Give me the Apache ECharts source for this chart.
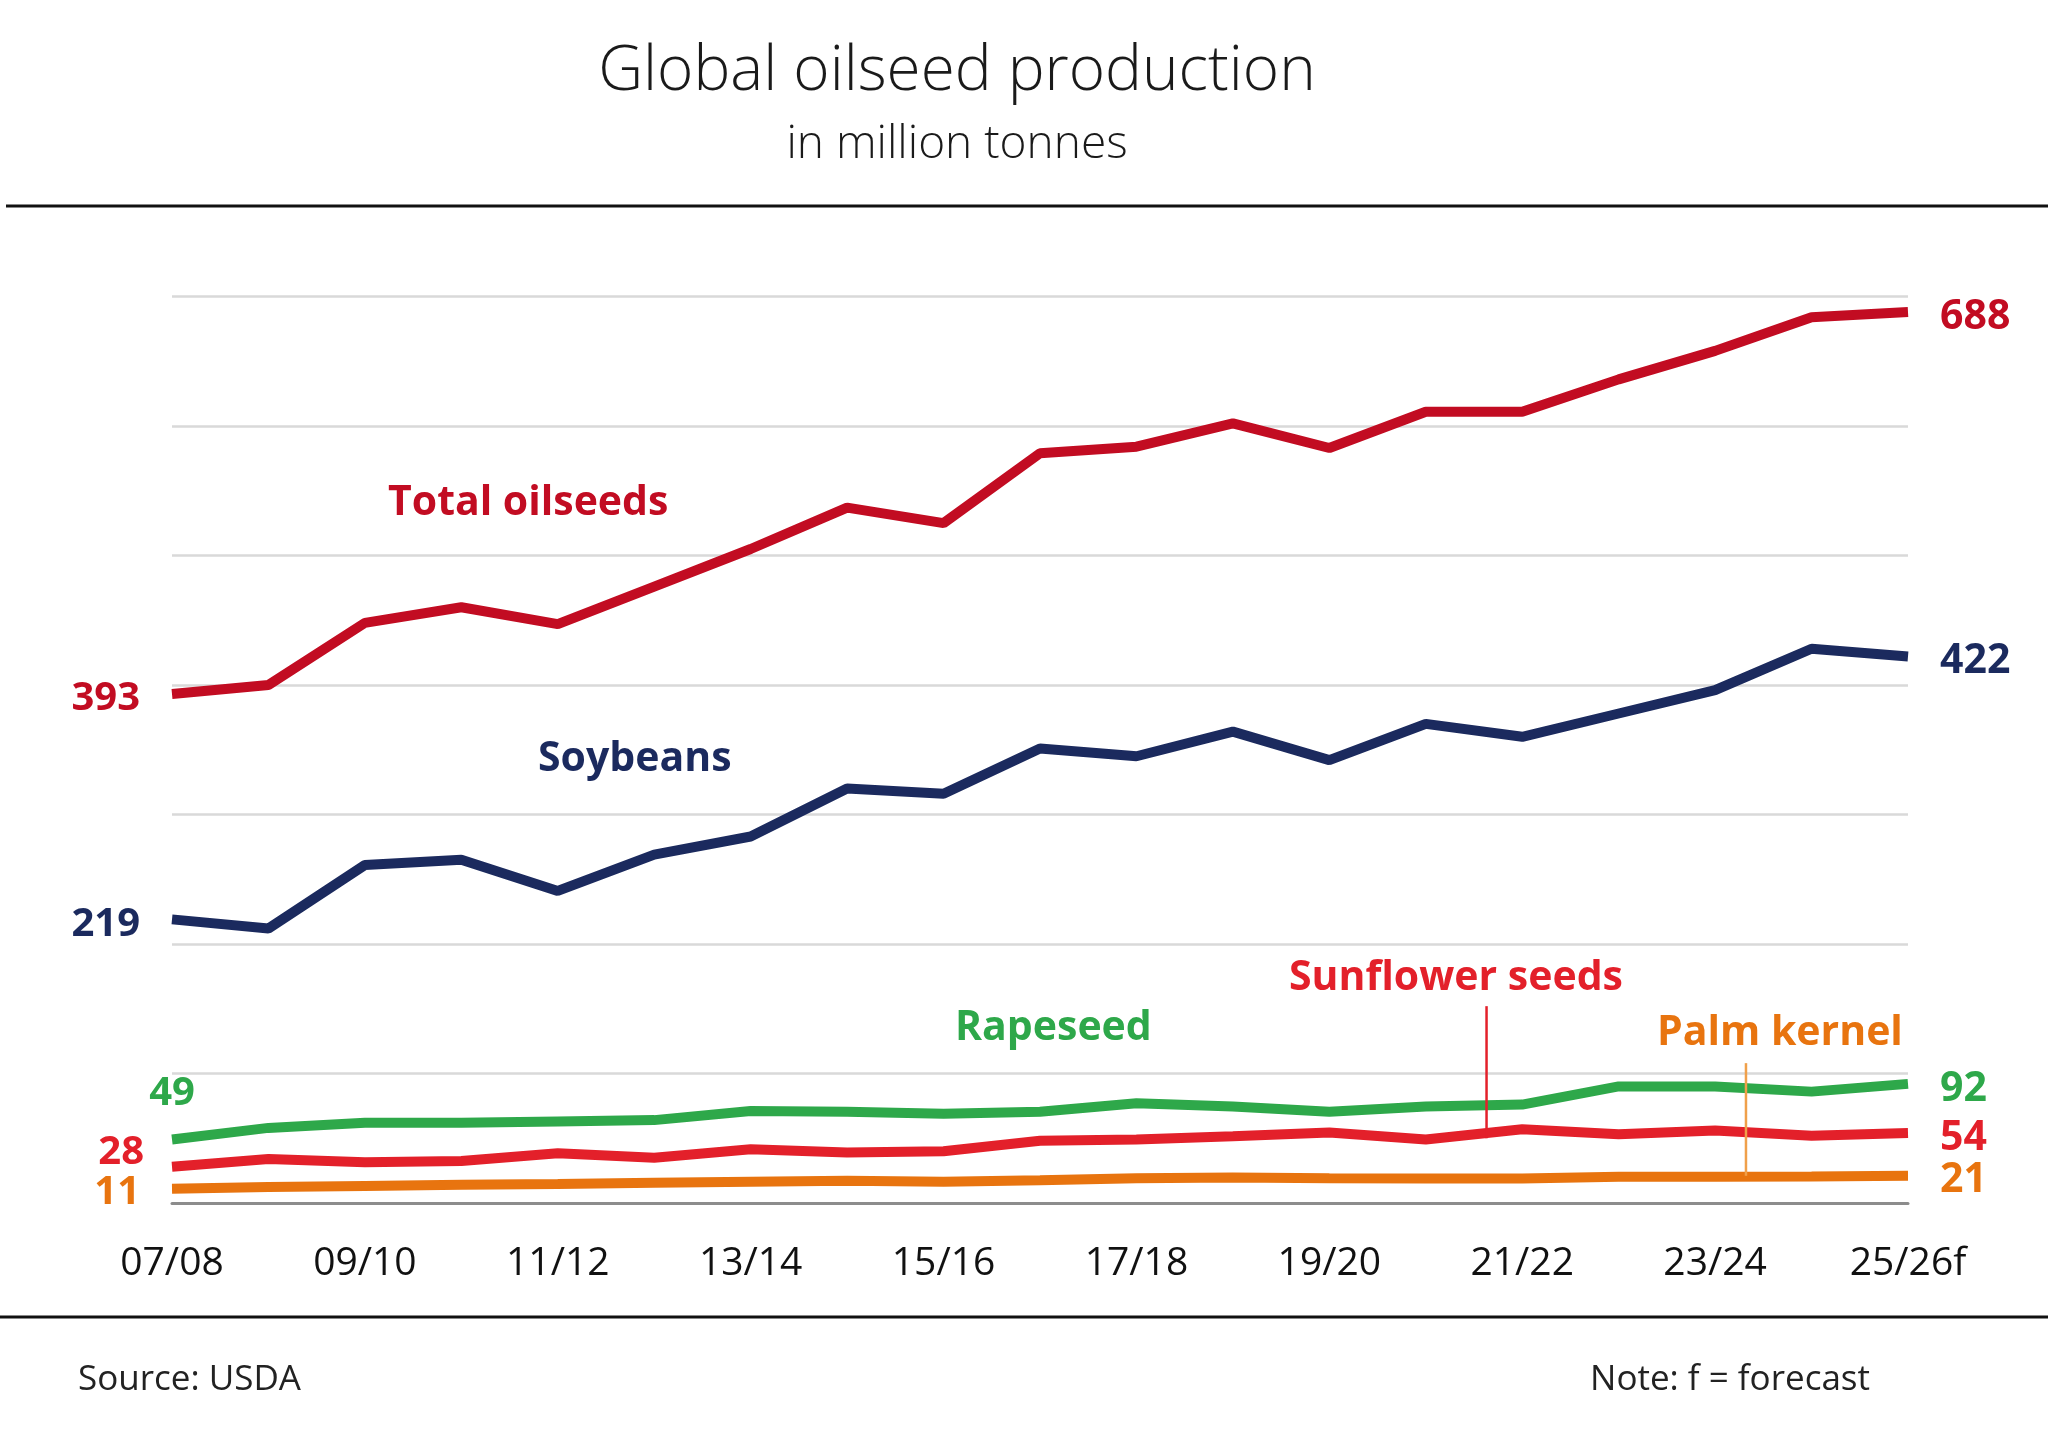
<!DOCTYPE html>
<html>
<head>
<meta charset="utf-8">
<script src="https://cdn.jsdelivr.net/npm/echarts@6/dist/echarts.min.js"></script>
<style>
html,body{margin:0;padding:0;background:#fff;}
#c{width:2048px;height:1437px;}
</style>
</head>
<body>
<div id="c"></div>
<script>
const categories = ['07/08','08/09','09/10','10/11','11/12','12/13','13/14','14/15','15/16','16/17','17/18','18/19','19/20','20/21','21/22','22/23','23/24','24/25','25/26f'];
const totalOilseeds = [393, 400, 448, 460, 447, 476, 505, 537, 525, 579, 584, 602, 583, 611, 611, 636, 658, 684, 688];
const soybeans = [219, 212, 261, 265, 241, 269, 283, 320, 316, 351, 345, 364, 342, 370, 360, 378, 396, 428, 422];
const rapeseed = [49, 58, 62, 62, 63, 64, 71, 70.5, 69, 70.5, 77, 74.5, 70.5, 74.5, 76, 90, 90, 86, 92];
const sunflower = [28, 34, 31.5, 32.5, 38.5, 35, 41.5, 39, 40, 48, 49, 51.5, 54.5, 49, 57, 53, 56, 52, 54];
const palmKernel = [11, 12.3, 13.2, 14, 14.7, 15.7, 16.5, 17.2, 16.5, 17.5, 19.2, 19.7, 19.2, 19, 19, 20.2, 20.3, 20.5, 21];
const yTicks = [0, 100, 200, 300, 400, 500, 600, 700];

const FONT = '"Open Sans", "DejaVu Sans", sans-serif';
const COL = {
  total: '#c20c22',
  soy: '#1b2a5e',
  rape: '#2ea84a',
  sun: '#e3202a',
  palm: '#e8740f'
};

function makeData(vals, color, firstLabel) {
  const last = vals.length - 1;
  return vals.map((v, i) => {
    if (i === 0) {
      return { value: v, label: Object.assign({ show: true, color: color, fontFamily: FONT, fontWeight: 'bold', fontSize: 40, formatter: '{c}' }, firstLabel) };
    }
    if (i === last) {
      return { value: v, label: { show: true, position: 'right', distance: 32, offset: [0, 5], color: color, fontFamily: FONT, fontWeight: 'bold', fontSize: 41, formatter: '{c}' } };
    }
    return v;
  });
}

function lineSeries(name, vals, color, firstLabel, z) {
  return {
    name: name,
    type: 'line',
    data: makeData(vals, color, firstLabel),
    showSymbol: true,
    symbol: 'circle',
    symbolSize: 0,
    itemStyle: { color: color },
    lineStyle: { color: color, width: 10 },
    label: { show: false },
    emphasis: { disabled: true },
    silent: true,
    z: z
  };
}

const chart = echarts.init(document.getElementById('c'), null, { renderer: 'canvas' });

const option = {
  animation: false,
  backgroundColor: '#ffffff',
  grid: { left: 172, right: 140, top: 296.5, bottom: 234, containLabel: false },
  xAxis: {
    type: 'category',
    data: categories,
    boundaryGap: false,
    axisLine: { show: true, lineStyle: { color: '#8c8c8c', width: 3 } },
    axisTick: { show: false },
    axisLabel: { interval: 1, margin: 41, color: '#111', fontFamily: FONT, fontSize: 39, lineHeight: 39 },
    splitLine: { show: false },
    z: 3
  },
  yAxis: {
    type: 'value',
    min: yTicks[0],
    max: yTicks[yTicks.length - 1],
    interval: yTicks[1] - yTicks[0],
    axisLine: { show: false },
    axisTick: { show: false },
    axisLabel: { show: false },
    splitLine: { show: true, lineStyle: { color: '#d9d9d9', width: 2.5 } }
  },
  series: [
    lineSeries('Palm kernel', palmKernel, COL.palm, { position: 'left', distance: 32, offset: [0, 4] }, 2),
    lineSeries('Sunflower seeds', sunflower, COL.sun, { position: 'left', distance: 28, offset: [0, -14] }, 3),
    lineSeries('Rapeseed', rapeseed, COL.rape, { position: 'top', distance: 26 }, 4),
    lineSeries('Soybeans', soybeans, COL.soy, { position: 'left', distance: 32, offset: [0, 5] }, 5),
    lineSeries('Total oilseeds', totalOilseeds, COL.total, { position: 'left', distance: 32, offset: [0, 5] }, 6)
  ]
};
chart.setOption(option);

function px(idx, val) {
  const i0 = Math.floor(idx), f = idx - i0;
  const a = chart.convertToPixel({ xAxisIndex: 0 }, i0);
  const b = chart.convertToPixel({ xAxisIndex: 0 }, Math.min(i0 + 1, categories.length - 1));
  const x = a + (b - a) * f;
  const y = chart.convertToPixel({ yAxisIndex: 0 }, val);
  return [x, y];
}

const sunTop = px(13.63, 152), sunBot = px(13.63, 50);
const palmTop = px(16.32, 108), palmBot = px(16.32, 21);

function txt(text, x, y, size, color, weight, align) {
  return {
    type: 'text', x: x, y: y, z: 100,
    style: { text: text, fill: color, font: (weight || 'normal') + ' ' + size + 'px ' + FONT, textAlign: align || 'left', textVerticalAlign: 'middle' }
  };
}

chart.setOption({
  graphic: [
    txt('Global oilseed production', 957, 72, 62, '#1a1a1a', '300', 'center'),
    txt('in million tonnes', 957, 145, 46, '#1a1a1a', '300', 'center'),
    { type: 'line', z: 100, shape: { x1: 6, y1: 206, x2: 2048, y2: 206 }, style: { stroke: '#111', lineWidth: 3 } },
    { type: 'line', z: 100, shape: { x1: 0, y1: 1317, x2: 2048, y2: 1317 }, style: { stroke: '#111', lineWidth: 3 } },
    txt('Source: USDA', 78, 1380, 35, '#222', 'normal', 'left'),
    txt('Note: f = forecast', 1870, 1380, 35, '#222', 'normal', 'right'),
    txt('Total oilseeds', 388, 503, 41, COL.total, 'bold', 'left'),
    txt('Soybeans', 538, 759, 41, COL.soy, 'bold', 'left'),
    txt('Rapeseed', 955, 1028, 41, COL.rape, 'bold', 'left'),
    txt('Sunflower seeds', 1289, 978, 41, COL.sun, 'bold', 'left'),
    txt('Palm kernel', 1657, 1033, 41, COL.palm, 'bold', 'left'),
    { type: 'line', z: 100, shape: { x1: sunTop[0], y1: sunTop[1], x2: sunBot[0], y2: sunBot[1] }, style: { stroke: COL.sun, lineWidth: 2.5 } },
    { type: 'line', z: 100, shape: { x1: palmTop[0], y1: palmTop[1], x2: palmBot[0], y2: palmBot[1] }, style: { stroke: '#f0a04a', lineWidth: 2.5 } }
  ]
});
</script>
</body>
</html>
